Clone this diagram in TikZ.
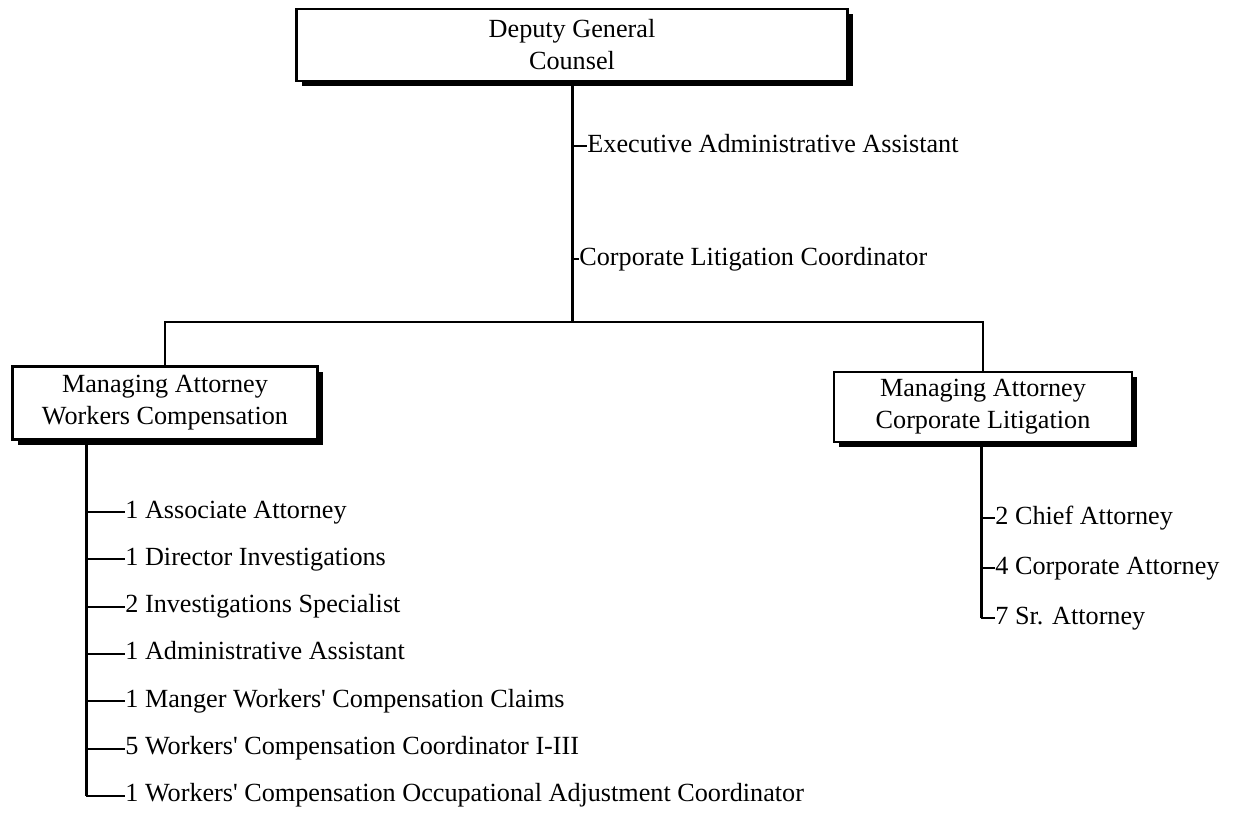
\documentclass[tikz,border=0pt]{standalone}
\usepackage{fontspec}
\setmainfont{Liberation Serif}[Ligatures=TeXOff]
\usetikzlibrary{shadows}

\begin{document}
\begin{tikzpicture}[x=0.5pt,y=-0.5pt,
    every node/.style={font=\fontsize{13.1}{16}\selectfont},
    unit/.style={draw,line width=1.2pt,fill=white,align=center,inner sep=0pt,
      drop shadow={shadow xshift=2.5pt,shadow yshift=-2.5pt,fill=black,opacity=1}},
    staff/.style={anchor=west,inner sep=0pt,text height=9pt,text depth=3pt},
    spine/.style={line width=1.5pt},
    tick/.style={line width=1pt}]
  \useasboundingbox (0,0) rectangle (1238,816);

  \node[unit,minimum width=275.5pt,minimum height=36pt] (dgc) at (572,45) {Deputy General\\Counsel};
  \node[unit,minimum width=152.5pt,minimum height=36.5pt] (mawc) at (165,403) {Managing Attorney\\Workers Compensation};
  \node[unit,minimum width=149pt,minimum height=35pt] (macl) at (983,407) {Managing Attorney\\Corporate Litigation};

  \coordinate (hub) at (572,322);
  \coordinate (wcspine) at (86,0);
  \coordinate (clspine) at (981,0);

  \draw[spine] (dgc.south) -- (hub);
  \draw[tick] (mawc.north) -- (mawc.north |- hub) -- (macl.north |- hub) -- (macl.north);

  % staff of the deputy
  \node[staff] (exec) at (587,146) {Executive Administrative Assistant};
  \node[staff] (clc) at (579,259) {Corporate Litigation Coordinator};
  \draw[tick] (exec.west -| hub) -- (exec.west);
  \draw[tick] (clc.west -| hub) -- (clc.west);

  % workers compensation
  \foreach \t [count=\i] in {1 Associate Attorney,1 Director Investigations,2 Investigations Specialist,
      1 Administrative Assistant,1 Manger Workers' Compensation Claims,5 Workers' Compensation Coordinator I-III,
      1 Workers' Compensation Occupational Adjustment Coordinator}
    {
    \node[staff] (wc\i) at (125,{512+47.3*(\i-1)}) {\t};
    \draw[tick] (wc\i.west -| wcspine) -- (wc\i.west);
    }
  \draw[spine] (mawc.south -| wcspine) -- (wc7.west -| wcspine);

  % corporate litigation
  \foreach \t [count=\i] in {2 Chief Attorney,4 Corporate Attorney,7 Sr. Attorney}
    {
    \node[staff] (cl\i) at (995,{518+50*(\i-1)}) {\t};
    \draw[tick] (cl\i.west -| clspine) -- (cl\i.west);
    }
  \draw[spine] (macl.south -| clspine) -- (cl3.west -| clspine);
\end{tikzpicture}
\end{document}
